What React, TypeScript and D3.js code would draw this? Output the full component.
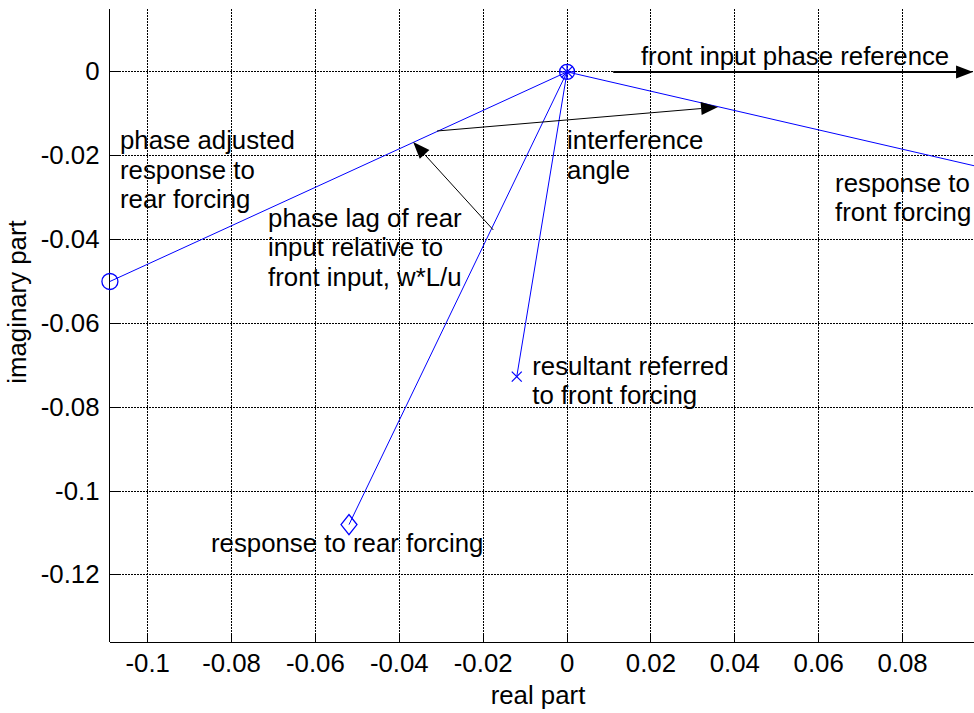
import React from "react";
import * as d3 from "d3";

// ---- data (complex plane values) ----
const origin: [number, number] = [0, 0];
const rearAdjusted: [number, number] = [-0.109, -0.05];
const rearResponse: [number, number] = [-0.052, -0.108];
const resultant: [number, number] = [-0.012, -0.0727];
const frontResponse: [number, number] = [0.117, -0.027];

const xTicks = [-0.1, -0.08, -0.06, -0.04, -0.02, 0, 0.02, 0.04, 0.06, 0.08];
const yTicks = [0, -0.02, -0.04, -0.06, -0.08, -0.1, -0.12];

const arrowPhaseRef: [number, number][] = [[0.011, 0], [0.0968, 0]];
const arrowInterference: [number, number][] = [[-0.031, -0.0141], [0.036, -0.0084]];
const arrowPhaseLag: [number, number][] = [[-0.0176, -0.0377], [-0.0367, -0.0167]];

const annotations: { x: number; y: number; lines: string[] }[] = [
  { x: -0.1066, y: -0.0184, lines: ["phase adjusted", "response to", "rear forcing"] },
  { x: -0.0713, y: -0.037, lines: ["phase lag of rear", "input relative to", "front input, w*L/u"] },
  { x: 0.0, y: -0.0184, lines: ["interference", "angle"] },
  { x: 0.0639, y: -0.0286, lines: ["response to", "front forcing"] },
  { x: -0.0083, y: -0.0723, lines: ["resultant referred", "to front forcing"] },
  { x: -0.0849, y: -0.1146, lines: ["response to rear forcing"] },
  { x: 0.0176, y: 0.0017, lines: ["front input phase reference"] },
];

const W = 974;
const H = 713;
const L = 109.5;
const R = 986.5;
const T = 9;
const B = 642;
const FONT = "'Liberation Sans', Arial, Helvetica, sans-serif";
const FS = 25.8;
const BLUE = "#0000ff";

const snap = (v: number) => Math.round(v - 0.5) + 0.5;

export default function App() {
  const x = d3.scaleLinear().domain([-0.1091, 0.1]).range([L, R]);
  const y = d3.scaleLinear().domain([-0.136, 0.015]).range([B, T]);
  const line = d3.line<[number, number]>().x((d) => x(d[0])).y((d) => y(d[1]));

  const arrow = (pts: [number, number][], key: string, width: number, headLen = 17, headHalf = 6.5) => {
    const [a, b] = pts;
    const x1 = x(a[0]), y1 = y(a[1]), x2 = x(b[0]), y2 = y(b[1]);
    const ang = Math.atan2(y2 - y1, x2 - x1);
    const bx = x2 - headLen * Math.cos(ang);
    const by = y2 - headLen * Math.sin(ang);
    const px = -Math.sin(ang) * headHalf;
    const py = Math.cos(ang) * headHalf;
    return (
      <g key={key}>
        <line x1={x1} y1={y1} x2={bx} y2={by} stroke="#000" strokeWidth={width} />
        <polygon points={`${x2},${y2} ${bx + px},${by + py} ${bx - px},${by - py}`} fill="#000" />
      </g>
    );
  };

  const ox = x(origin[0]);
  const oy = y(origin[1]);

  return (
    <svg width={W} height={H} style={{ position: "absolute", left: 0, top: 0, background: "#fff" }}>
      <rect x={0} y={0} width={W} height={H} fill="#fff" />
      {/* grid */}
      <g shapeRendering="crispEdges">
        {xTicks.map((t) => (
          <line key={"gx" + t} x1={snap(x(t))} x2={snap(x(t))} y1={T} y2={B} stroke="#000" strokeWidth={1} strokeDasharray="2,1" />
        ))}
        {yTicks.map((t) => (
          <line key={"gy" + t} x1={L} x2={R} y1={snap(y(t))} y2={snap(y(t))} stroke="#000" strokeWidth={1} strokeDasharray="2,1" />
        ))}
        {/* axes */}
        <line x1={L} x2={L} y1={T} y2={B} stroke="#000" strokeWidth={1} />
        <line x1={L} x2={R} y1={B + 0.5} y2={B + 0.5} stroke="#000" strokeWidth={1} />
        {xTicks.map((t) => (
          <line key={"tx" + t} x1={snap(x(t))} x2={snap(x(t))} y1={B} y2={B - 9} stroke="#000" strokeWidth={1} />
        ))}
        {yTicks.map((t) => (
          <line key={"ty" + t} x1={L} x2={L + 9} y1={snap(y(t))} y2={snap(y(t))} stroke="#000" strokeWidth={1} />
        ))}
      </g>
      {/* tick labels */}
      {xTicks.map((t) => (
        <text key={"lx" + t} x={x(t)} y={B + 30} textAnchor="middle" fontFamily={FONT} fontSize={FS} fill="#000">
          {String(t)}
        </text>
      ))}
      {yTicks.map((t) => (
        <text key={"ly" + t} x={L - 10} y={y(t) + 8.5} textAnchor="end" fontFamily={FONT} fontSize={FS} fill="#000">
          {String(t)}
        </text>
      ))}
      <text x={538} y={704} textAnchor="middle" fontFamily={FONT} fontSize={FS} fill="#000">
        real part
      </text>
      <text
        transform={`translate(26,302) rotate(-90)`}
        textAnchor="middle"
        fontFamily={FONT}
        fontSize={FS}
        fill="#000"
      >
        imaginary part
      </text>

      {/* vectors */}
      {[rearAdjusted, rearResponse, resultant, frontResponse].map((p, i) => (
        <path key={"v" + i} d={line([origin, p]) || ""} stroke={BLUE} strokeWidth={1} fill="none" />
      ))}

      {/* markers */}
      <g stroke={BLUE} strokeWidth={1.3} fill="none">
        <circle cx={ox} cy={oy} r={7.5} />
        <line x1={ox - 7} x2={ox + 7} y1={oy} y2={oy} />
        <line x1={ox} x2={ox} y1={oy - 7} y2={oy + 7} />
        <line x1={ox - 5} x2={ox + 5} y1={oy - 5} y2={oy + 5} />
        <line x1={ox - 5} x2={ox + 5} y1={oy + 5} y2={oy - 5} />
        <circle cx={x(rearAdjusted[0])} cy={y(rearAdjusted[1])} r={8} />
        <path
          d={`M${x(rearResponse[0]) - 8},${y(rearResponse[1])} L${x(rearResponse[0])},${y(rearResponse[1]) - 10} L${
            x(rearResponse[0]) + 8
          },${y(rearResponse[1])} L${x(rearResponse[0])},${y(rearResponse[1]) + 10} Z`}
        />
        <line x1={x(resultant[0]) - 5} x2={x(resultant[0]) + 5} y1={y(resultant[1]) - 5} y2={y(resultant[1]) + 5} />
        <line x1={x(resultant[0]) - 5} x2={x(resultant[0]) + 5} y1={y(resultant[1]) + 5} y2={y(resultant[1]) - 5} />
      </g>

      {/* arrows */}
      {arrow(arrowPhaseRef, "a1", 2)}
      {arrow(arrowInterference, "a2", 1)}
      {arrow(arrowPhaseLag, "a3", 1)}

      {/* annotations */}
      {annotations.map((a, i) => (
        <text key={"an" + i} x={x(a.x)} y={y(a.y)} fontFamily={FONT} fontSize={FS} fill="#000">
          {a.lines.map((ln, j) => (
            <tspan key={j} x={x(a.x)} dy={j === 0 ? 0 : 29.5}>
              {ln}
            </tspan>
          ))}
        </text>
      ))}
    </svg>
  );
}
